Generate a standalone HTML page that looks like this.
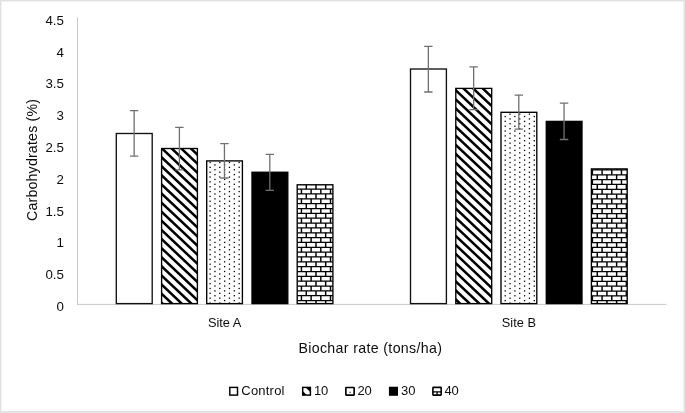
<!DOCTYPE html>
<html><head><meta charset="utf-8"><title>Carbohydrates chart</title>
<style>html,body{margin:0;padding:0;background:#fff}svg text{font-kerning:normal}</style></head>
<body>
<svg width="685" height="413" viewBox="0 0 685 413" style="display:block">
<defs>
</defs>
<rect x="0" y="0" width="685" height="413" fill="#fff"/>
<rect x="0" y="0" width="685" height="1.55" fill="#e2e2e2"/>
<rect x="0" y="0" width="1.55" height="413" fill="#e2e2e2"/>
<rect x="0" y="411" width="685" height="2" fill="#e4e4e4"/>
<rect x="683.4" y="0" width="1.6" height="413" fill="#e5e5e5"/>
<line x1="77.5" y1="17.3" x2="77.5" y2="304.6" stroke="#c9c9c9" stroke-width="1"/>
<line x1="77.0" y1="304.40000000000003" x2="666.5" y2="304.40000000000003" stroke="#c9c9c9" stroke-width="1"/>
<rect x="116.3" y="133.5" width="35.90" height="170.10" fill="#fff" stroke="#111" stroke-width="1.35"/>
<clipPath id="c2"><rect x="161.6" y="148.5" width="35.80" height="155.10"/></clipPath>
<rect x="161.6" y="148.5" width="35.80" height="155.10" fill="#fff"/>
<g clip-path="url(#c2)">
<path d="M159.60,98.96L199.40,136.50L199.40,140.00L159.60,102.46ZM159.60,108.06L199.40,145.60L199.40,149.10L159.60,111.56ZM159.60,117.16L199.40,154.70L199.40,158.20L159.60,120.66ZM159.60,126.26L199.40,163.80L199.40,167.30L159.60,129.76ZM159.60,135.36L199.40,172.90L199.40,176.40L159.60,138.86ZM159.60,144.46L199.40,182.00L199.40,185.50L159.60,147.96ZM159.60,153.56L199.40,191.10L199.40,194.60L159.60,157.06ZM159.60,162.66L199.40,200.20L199.40,203.70L159.60,166.16ZM159.60,171.76L199.40,209.30L199.40,212.80L159.60,175.26ZM159.60,180.86L199.40,218.40L199.40,221.90L159.60,184.36ZM159.60,189.96L199.40,227.50L199.40,231.00L159.60,193.46ZM159.60,199.06L199.40,236.60L199.40,240.10L159.60,202.56ZM159.60,208.16L199.40,245.70L199.40,249.20L159.60,211.66ZM159.60,217.26L199.40,254.80L199.40,258.30L159.60,220.76ZM159.60,226.36L199.40,263.90L199.40,267.40L159.60,229.86ZM159.60,235.46L199.40,273.00L199.40,276.50L159.60,238.96ZM159.60,244.56L199.40,282.10L199.40,285.60L159.60,248.06ZM159.60,253.66L199.40,291.20L199.40,294.70L159.60,257.16ZM159.60,262.76L199.40,300.30L199.40,303.80L159.60,266.26ZM159.60,271.86L199.40,309.40L199.40,312.90L159.60,275.36ZM159.60,280.96L199.40,318.50L199.40,322.00L159.60,284.46ZM159.60,290.06L199.40,327.60L199.40,331.10L159.60,293.56ZM159.60,299.16L199.40,336.70L199.40,340.20L159.60,302.66ZM159.60,308.26L199.40,345.80L199.40,349.30L159.60,311.76Z" fill="#000"/>
</g>
<rect x="161.6" y="148.5" width="35.80" height="155.10" fill="none" stroke="#000" stroke-width="1.35"/>
<clipPath id="c3"><rect x="206.7" y="160.9" width="35.70" height="142.70"/></clipPath>
<rect x="206.7" y="160.9" width="35.70" height="142.70" fill="#fff"/>
<g clip-path="url(#c3)">
<g fill="#000"><rect x="209.45" y="161.85" width="1.3" height="1.3"/><rect x="219.14" y="161.85" width="1.3" height="1.3"/><rect x="228.83" y="161.85" width="1.3" height="1.3"/><rect x="238.52" y="161.85" width="1.3" height="1.3"/><rect x="214.29" y="164.27" width="1.3" height="1.3"/><rect x="223.98" y="164.27" width="1.3" height="1.3"/><rect x="233.67" y="164.27" width="1.3" height="1.3"/><rect x="209.45" y="166.70" width="1.3" height="1.3"/><rect x="219.14" y="166.70" width="1.3" height="1.3"/><rect x="228.83" y="166.70" width="1.3" height="1.3"/><rect x="238.52" y="166.70" width="1.3" height="1.3"/><rect x="214.29" y="169.12" width="1.3" height="1.3"/><rect x="223.98" y="169.12" width="1.3" height="1.3"/><rect x="233.67" y="169.12" width="1.3" height="1.3"/><rect x="209.45" y="171.54" width="1.3" height="1.3"/><rect x="219.14" y="171.54" width="1.3" height="1.3"/><rect x="228.83" y="171.54" width="1.3" height="1.3"/><rect x="238.52" y="171.54" width="1.3" height="1.3"/><rect x="214.29" y="173.96" width="1.3" height="1.3"/><rect x="223.98" y="173.96" width="1.3" height="1.3"/><rect x="233.67" y="173.96" width="1.3" height="1.3"/><rect x="209.45" y="176.39" width="1.3" height="1.3"/><rect x="219.14" y="176.39" width="1.3" height="1.3"/><rect x="228.83" y="176.39" width="1.3" height="1.3"/><rect x="238.52" y="176.39" width="1.3" height="1.3"/><rect x="214.29" y="178.81" width="1.3" height="1.3"/><rect x="223.98" y="178.81" width="1.3" height="1.3"/><rect x="233.67" y="178.81" width="1.3" height="1.3"/><rect x="209.45" y="181.23" width="1.3" height="1.3"/><rect x="219.14" y="181.23" width="1.3" height="1.3"/><rect x="228.83" y="181.23" width="1.3" height="1.3"/><rect x="238.52" y="181.23" width="1.3" height="1.3"/><rect x="214.29" y="183.65" width="1.3" height="1.3"/><rect x="223.98" y="183.65" width="1.3" height="1.3"/><rect x="233.67" y="183.65" width="1.3" height="1.3"/><rect x="209.45" y="186.08" width="1.3" height="1.3"/><rect x="219.14" y="186.08" width="1.3" height="1.3"/><rect x="228.83" y="186.08" width="1.3" height="1.3"/><rect x="238.52" y="186.08" width="1.3" height="1.3"/><rect x="214.29" y="188.50" width="1.3" height="1.3"/><rect x="223.98" y="188.50" width="1.3" height="1.3"/><rect x="233.67" y="188.50" width="1.3" height="1.3"/><rect x="209.45" y="190.92" width="1.3" height="1.3"/><rect x="219.14" y="190.92" width="1.3" height="1.3"/><rect x="228.83" y="190.92" width="1.3" height="1.3"/><rect x="238.52" y="190.92" width="1.3" height="1.3"/><rect x="214.29" y="193.34" width="1.3" height="1.3"/><rect x="223.98" y="193.34" width="1.3" height="1.3"/><rect x="233.67" y="193.34" width="1.3" height="1.3"/><rect x="209.45" y="195.77" width="1.3" height="1.3"/><rect x="219.14" y="195.77" width="1.3" height="1.3"/><rect x="228.83" y="195.77" width="1.3" height="1.3"/><rect x="238.52" y="195.77" width="1.3" height="1.3"/><rect x="214.29" y="198.19" width="1.3" height="1.3"/><rect x="223.98" y="198.19" width="1.3" height="1.3"/><rect x="233.67" y="198.19" width="1.3" height="1.3"/><rect x="209.45" y="200.61" width="1.3" height="1.3"/><rect x="219.14" y="200.61" width="1.3" height="1.3"/><rect x="228.83" y="200.61" width="1.3" height="1.3"/><rect x="238.52" y="200.61" width="1.3" height="1.3"/><rect x="214.29" y="203.03" width="1.3" height="1.3"/><rect x="223.98" y="203.03" width="1.3" height="1.3"/><rect x="233.67" y="203.03" width="1.3" height="1.3"/><rect x="209.45" y="205.46" width="1.3" height="1.3"/><rect x="219.14" y="205.46" width="1.3" height="1.3"/><rect x="228.83" y="205.46" width="1.3" height="1.3"/><rect x="238.52" y="205.46" width="1.3" height="1.3"/><rect x="214.29" y="207.88" width="1.3" height="1.3"/><rect x="223.98" y="207.88" width="1.3" height="1.3"/><rect x="233.67" y="207.88" width="1.3" height="1.3"/><rect x="209.45" y="210.30" width="1.3" height="1.3"/><rect x="219.14" y="210.30" width="1.3" height="1.3"/><rect x="228.83" y="210.30" width="1.3" height="1.3"/><rect x="238.52" y="210.30" width="1.3" height="1.3"/><rect x="214.29" y="212.72" width="1.3" height="1.3"/><rect x="223.98" y="212.72" width="1.3" height="1.3"/><rect x="233.67" y="212.72" width="1.3" height="1.3"/><rect x="209.45" y="215.15" width="1.3" height="1.3"/><rect x="219.14" y="215.15" width="1.3" height="1.3"/><rect x="228.83" y="215.15" width="1.3" height="1.3"/><rect x="238.52" y="215.15" width="1.3" height="1.3"/><rect x="214.29" y="217.57" width="1.3" height="1.3"/><rect x="223.98" y="217.57" width="1.3" height="1.3"/><rect x="233.67" y="217.57" width="1.3" height="1.3"/><rect x="209.45" y="219.99" width="1.3" height="1.3"/><rect x="219.14" y="219.99" width="1.3" height="1.3"/><rect x="228.83" y="219.99" width="1.3" height="1.3"/><rect x="238.52" y="219.99" width="1.3" height="1.3"/><rect x="214.29" y="222.41" width="1.3" height="1.3"/><rect x="223.98" y="222.41" width="1.3" height="1.3"/><rect x="233.67" y="222.41" width="1.3" height="1.3"/><rect x="209.45" y="224.84" width="1.3" height="1.3"/><rect x="219.14" y="224.84" width="1.3" height="1.3"/><rect x="228.83" y="224.84" width="1.3" height="1.3"/><rect x="238.52" y="224.84" width="1.3" height="1.3"/><rect x="214.29" y="227.26" width="1.3" height="1.3"/><rect x="223.98" y="227.26" width="1.3" height="1.3"/><rect x="233.67" y="227.26" width="1.3" height="1.3"/><rect x="209.45" y="229.68" width="1.3" height="1.3"/><rect x="219.14" y="229.68" width="1.3" height="1.3"/><rect x="228.83" y="229.68" width="1.3" height="1.3"/><rect x="238.52" y="229.68" width="1.3" height="1.3"/><rect x="214.29" y="232.10" width="1.3" height="1.3"/><rect x="223.98" y="232.10" width="1.3" height="1.3"/><rect x="233.67" y="232.10" width="1.3" height="1.3"/><rect x="209.45" y="234.53" width="1.3" height="1.3"/><rect x="219.14" y="234.53" width="1.3" height="1.3"/><rect x="228.83" y="234.53" width="1.3" height="1.3"/><rect x="238.52" y="234.53" width="1.3" height="1.3"/><rect x="214.29" y="236.95" width="1.3" height="1.3"/><rect x="223.98" y="236.95" width="1.3" height="1.3"/><rect x="233.67" y="236.95" width="1.3" height="1.3"/><rect x="209.45" y="239.37" width="1.3" height="1.3"/><rect x="219.14" y="239.37" width="1.3" height="1.3"/><rect x="228.83" y="239.37" width="1.3" height="1.3"/><rect x="238.52" y="239.37" width="1.3" height="1.3"/><rect x="214.29" y="241.79" width="1.3" height="1.3"/><rect x="223.98" y="241.79" width="1.3" height="1.3"/><rect x="233.67" y="241.79" width="1.3" height="1.3"/><rect x="209.45" y="244.22" width="1.3" height="1.3"/><rect x="219.14" y="244.22" width="1.3" height="1.3"/><rect x="228.83" y="244.22" width="1.3" height="1.3"/><rect x="238.52" y="244.22" width="1.3" height="1.3"/><rect x="214.29" y="246.64" width="1.3" height="1.3"/><rect x="223.98" y="246.64" width="1.3" height="1.3"/><rect x="233.67" y="246.64" width="1.3" height="1.3"/><rect x="209.45" y="249.06" width="1.3" height="1.3"/><rect x="219.14" y="249.06" width="1.3" height="1.3"/><rect x="228.83" y="249.06" width="1.3" height="1.3"/><rect x="238.52" y="249.06" width="1.3" height="1.3"/><rect x="214.29" y="251.48" width="1.3" height="1.3"/><rect x="223.98" y="251.48" width="1.3" height="1.3"/><rect x="233.67" y="251.48" width="1.3" height="1.3"/><rect x="209.45" y="253.91" width="1.3" height="1.3"/><rect x="219.14" y="253.91" width="1.3" height="1.3"/><rect x="228.83" y="253.91" width="1.3" height="1.3"/><rect x="238.52" y="253.91" width="1.3" height="1.3"/><rect x="214.29" y="256.33" width="1.3" height="1.3"/><rect x="223.98" y="256.33" width="1.3" height="1.3"/><rect x="233.67" y="256.33" width="1.3" height="1.3"/><rect x="209.45" y="258.75" width="1.3" height="1.3"/><rect x="219.14" y="258.75" width="1.3" height="1.3"/><rect x="228.83" y="258.75" width="1.3" height="1.3"/><rect x="238.52" y="258.75" width="1.3" height="1.3"/><rect x="214.29" y="261.17" width="1.3" height="1.3"/><rect x="223.98" y="261.17" width="1.3" height="1.3"/><rect x="233.67" y="261.17" width="1.3" height="1.3"/><rect x="209.45" y="263.60" width="1.3" height="1.3"/><rect x="219.14" y="263.60" width="1.3" height="1.3"/><rect x="228.83" y="263.60" width="1.3" height="1.3"/><rect x="238.52" y="263.60" width="1.3" height="1.3"/><rect x="214.29" y="266.02" width="1.3" height="1.3"/><rect x="223.98" y="266.02" width="1.3" height="1.3"/><rect x="233.67" y="266.02" width="1.3" height="1.3"/><rect x="209.45" y="268.44" width="1.3" height="1.3"/><rect x="219.14" y="268.44" width="1.3" height="1.3"/><rect x="228.83" y="268.44" width="1.3" height="1.3"/><rect x="238.52" y="268.44" width="1.3" height="1.3"/><rect x="214.29" y="270.86" width="1.3" height="1.3"/><rect x="223.98" y="270.86" width="1.3" height="1.3"/><rect x="233.67" y="270.86" width="1.3" height="1.3"/><rect x="209.45" y="273.29" width="1.3" height="1.3"/><rect x="219.14" y="273.29" width="1.3" height="1.3"/><rect x="228.83" y="273.29" width="1.3" height="1.3"/><rect x="238.52" y="273.29" width="1.3" height="1.3"/><rect x="214.29" y="275.71" width="1.3" height="1.3"/><rect x="223.98" y="275.71" width="1.3" height="1.3"/><rect x="233.67" y="275.71" width="1.3" height="1.3"/><rect x="209.45" y="278.13" width="1.3" height="1.3"/><rect x="219.14" y="278.13" width="1.3" height="1.3"/><rect x="228.83" y="278.13" width="1.3" height="1.3"/><rect x="238.52" y="278.13" width="1.3" height="1.3"/><rect x="214.29" y="280.55" width="1.3" height="1.3"/><rect x="223.98" y="280.55" width="1.3" height="1.3"/><rect x="233.67" y="280.55" width="1.3" height="1.3"/><rect x="209.45" y="282.98" width="1.3" height="1.3"/><rect x="219.14" y="282.98" width="1.3" height="1.3"/><rect x="228.83" y="282.98" width="1.3" height="1.3"/><rect x="238.52" y="282.98" width="1.3" height="1.3"/><rect x="214.29" y="285.40" width="1.3" height="1.3"/><rect x="223.98" y="285.40" width="1.3" height="1.3"/><rect x="233.67" y="285.40" width="1.3" height="1.3"/><rect x="209.45" y="287.82" width="1.3" height="1.3"/><rect x="219.14" y="287.82" width="1.3" height="1.3"/><rect x="228.83" y="287.82" width="1.3" height="1.3"/><rect x="238.52" y="287.82" width="1.3" height="1.3"/><rect x="214.29" y="290.24" width="1.3" height="1.3"/><rect x="223.98" y="290.24" width="1.3" height="1.3"/><rect x="233.67" y="290.24" width="1.3" height="1.3"/><rect x="209.45" y="292.67" width="1.3" height="1.3"/><rect x="219.14" y="292.67" width="1.3" height="1.3"/><rect x="228.83" y="292.67" width="1.3" height="1.3"/><rect x="238.52" y="292.67" width="1.3" height="1.3"/><rect x="214.29" y="295.09" width="1.3" height="1.3"/><rect x="223.98" y="295.09" width="1.3" height="1.3"/><rect x="233.67" y="295.09" width="1.3" height="1.3"/><rect x="209.45" y="297.51" width="1.3" height="1.3"/><rect x="219.14" y="297.51" width="1.3" height="1.3"/><rect x="228.83" y="297.51" width="1.3" height="1.3"/><rect x="238.52" y="297.51" width="1.3" height="1.3"/><rect x="214.29" y="299.93" width="1.3" height="1.3"/><rect x="223.98" y="299.93" width="1.3" height="1.3"/><rect x="233.67" y="299.93" width="1.3" height="1.3"/><rect x="209.45" y="302.36" width="1.3" height="1.3"/><rect x="219.14" y="302.36" width="1.3" height="1.3"/><rect x="228.83" y="302.36" width="1.3" height="1.3"/><rect x="238.52" y="302.36" width="1.3" height="1.3"/></g>
</g>
<rect x="206.7" y="160.9" width="35.70" height="142.70" fill="none" stroke="#000" stroke-width="1.35"/>
<rect x="252.0" y="172.25" width="35.80" height="131.35" fill="#000" stroke="#000" stroke-width="1.35"/>
<clipPath id="c5"><rect x="297.2" y="184.8" width="35.70" height="118.80"/></clipPath>
<rect x="297.2" y="184.8" width="35.70" height="118.80" fill="#fff"/>
<g clip-path="url(#c5)">
<path d="M297.2,174.61H332.9M297.2,179.46H332.9M297.2,184.30H332.9M297.2,189.15H332.9M297.2,193.99H332.9M297.2,198.84H332.9M297.2,203.68H332.9M297.2,208.53H332.9M297.2,213.37H332.9M297.2,218.22H332.9M297.2,223.06H332.9M297.2,227.91H332.9M297.2,232.75H332.9M297.2,237.59H332.9M297.2,242.44H332.9M297.2,247.28H332.9M297.2,252.13H332.9M297.2,256.98H332.9M297.2,261.82H332.9M297.2,266.67H332.9M297.2,271.51H332.9M297.2,276.36H332.9M297.2,281.20H332.9M297.2,286.05H332.9M297.2,290.89H332.9M297.2,295.74H332.9M297.2,300.58H332.9" stroke="#000" stroke-width="1.25" fill="none"/>
<path d="M306.29,174.61v4.845M315.98,174.61v4.845M325.67,174.61v4.845M301.44,179.46v4.845M311.13,179.46v4.845M320.82,179.46v4.845M330.51,179.46v4.845M306.29,184.30v4.845M315.98,184.30v4.845M325.67,184.30v4.845M301.44,189.15v4.845M311.13,189.15v4.845M320.82,189.15v4.845M330.51,189.15v4.845M306.29,193.99v4.845M315.98,193.99v4.845M325.67,193.99v4.845M301.44,198.84v4.845M311.13,198.84v4.845M320.82,198.84v4.845M330.51,198.84v4.845M306.29,203.68v4.845M315.98,203.68v4.845M325.67,203.68v4.845M301.44,208.53v4.845M311.13,208.53v4.845M320.82,208.53v4.845M330.51,208.53v4.845M306.29,213.37v4.845M315.98,213.37v4.845M325.67,213.37v4.845M301.44,218.22v4.845M311.13,218.22v4.845M320.82,218.22v4.845M330.51,218.22v4.845M306.29,223.06v4.845M315.98,223.06v4.845M325.67,223.06v4.845M301.44,227.91v4.845M311.13,227.91v4.845M320.82,227.91v4.845M330.51,227.91v4.845M306.29,232.75v4.845M315.98,232.75v4.845M325.67,232.75v4.845M301.44,237.59v4.845M311.13,237.59v4.845M320.82,237.59v4.845M330.51,237.59v4.845M306.29,242.44v4.845M315.98,242.44v4.845M325.67,242.44v4.845M301.44,247.28v4.845M311.13,247.28v4.845M320.82,247.28v4.845M330.51,247.28v4.845M306.29,252.13v4.845M315.98,252.13v4.845M325.67,252.13v4.845M301.44,256.98v4.845M311.13,256.98v4.845M320.82,256.98v4.845M330.51,256.98v4.845M306.29,261.82v4.845M315.98,261.82v4.845M325.67,261.82v4.845M301.44,266.67v4.845M311.13,266.67v4.845M320.82,266.67v4.845M330.51,266.67v4.845M306.29,271.51v4.845M315.98,271.51v4.845M325.67,271.51v4.845M301.44,276.36v4.845M311.13,276.36v4.845M320.82,276.36v4.845M330.51,276.36v4.845M306.29,281.20v4.845M315.98,281.20v4.845M325.67,281.20v4.845M301.44,286.05v4.845M311.13,286.05v4.845M320.82,286.05v4.845M330.51,286.05v4.845M306.29,290.89v4.845M315.98,290.89v4.845M325.67,290.89v4.845M301.44,295.74v4.845M311.13,295.74v4.845M320.82,295.74v4.845M330.51,295.74v4.845M306.29,300.58v4.845M315.98,300.58v4.845M325.67,300.58v4.845" stroke="#000" stroke-width="1.45" fill="none"/>
</g>
<rect x="297.2" y="184.8" width="35.70" height="118.80" fill="none" stroke="#000" stroke-width="1.35"/>
<rect x="410.5" y="69.0" width="35.90" height="234.60" fill="#fff" stroke="#111" stroke-width="1.35"/>
<clipPath id="c7"><rect x="455.8" y="88.4" width="35.90" height="215.20"/></clipPath>
<rect x="455.8" y="88.4" width="35.90" height="215.20" fill="#fff"/>
<g clip-path="url(#c7)">
<path d="M453.80,41.16L493.70,78.79L493.70,82.29L453.80,44.66ZM453.80,50.26L493.70,87.89L493.70,91.39L453.80,53.76ZM453.80,59.36L493.70,96.99L493.70,100.49L453.80,62.86ZM453.80,68.46L493.70,106.09L493.70,109.59L453.80,71.96ZM453.80,77.56L493.70,115.19L493.70,118.69L453.80,81.06ZM453.80,86.66L493.70,124.29L493.70,127.79L453.80,90.16ZM453.80,95.76L493.70,133.39L493.70,136.89L453.80,99.26ZM453.80,104.86L493.70,142.49L493.70,145.99L453.80,108.36ZM453.80,113.96L493.70,151.59L493.70,155.09L453.80,117.46ZM453.80,123.06L493.70,160.69L493.70,164.19L453.80,126.56ZM453.80,132.16L493.70,169.79L493.70,173.29L453.80,135.66ZM453.80,141.26L493.70,178.89L493.70,182.39L453.80,144.76ZM453.80,150.36L493.70,187.99L493.70,191.49L453.80,153.86ZM453.80,159.46L493.70,197.09L493.70,200.59L453.80,162.96ZM453.80,168.56L493.70,206.19L493.70,209.69L453.80,172.06ZM453.80,177.66L493.70,215.29L493.70,218.79L453.80,181.16ZM453.80,186.76L493.70,224.39L493.70,227.89L453.80,190.26ZM453.80,195.86L493.70,233.49L493.70,236.99L453.80,199.36ZM453.80,204.96L493.70,242.59L493.70,246.09L453.80,208.46ZM453.80,214.06L493.70,251.69L493.70,255.19L453.80,217.56ZM453.80,223.16L493.70,260.79L493.70,264.29L453.80,226.66ZM453.80,232.26L493.70,269.89L493.70,273.39L453.80,235.76ZM453.80,241.36L493.70,278.99L493.70,282.49L453.80,244.86ZM453.80,250.46L493.70,288.09L493.70,291.59L453.80,253.96ZM453.80,259.56L493.70,297.19L493.70,300.69L453.80,263.06ZM453.80,268.66L493.70,306.29L493.70,309.79L453.80,272.16ZM453.80,277.76L493.70,315.39L493.70,318.89L453.80,281.26ZM453.80,286.86L493.70,324.49L493.70,327.99L453.80,290.36ZM453.80,295.96L493.70,333.59L493.70,337.09L453.80,299.46ZM453.80,305.06L493.70,342.69L493.70,346.19L453.80,308.56Z" fill="#000"/>
</g>
<rect x="455.8" y="88.4" width="35.90" height="215.20" fill="none" stroke="#000" stroke-width="1.35"/>
<clipPath id="c8"><rect x="501.0" y="112.3" width="35.80" height="191.30"/></clipPath>
<rect x="501.0" y="112.3" width="35.80" height="191.30" fill="#fff"/>
<g clip-path="url(#c8)">
<g fill="#000"><rect x="509.40" y="113.45" width="1.3" height="1.3"/><rect x="519.09" y="113.45" width="1.3" height="1.3"/><rect x="528.78" y="113.45" width="1.3" height="1.3"/><rect x="504.55" y="115.87" width="1.3" height="1.3"/><rect x="514.24" y="115.87" width="1.3" height="1.3"/><rect x="523.93" y="115.87" width="1.3" height="1.3"/><rect x="533.62" y="115.87" width="1.3" height="1.3"/><rect x="509.40" y="118.29" width="1.3" height="1.3"/><rect x="519.09" y="118.29" width="1.3" height="1.3"/><rect x="528.78" y="118.29" width="1.3" height="1.3"/><rect x="504.55" y="120.72" width="1.3" height="1.3"/><rect x="514.24" y="120.72" width="1.3" height="1.3"/><rect x="523.93" y="120.72" width="1.3" height="1.3"/><rect x="533.62" y="120.72" width="1.3" height="1.3"/><rect x="509.40" y="123.14" width="1.3" height="1.3"/><rect x="519.09" y="123.14" width="1.3" height="1.3"/><rect x="528.78" y="123.14" width="1.3" height="1.3"/><rect x="504.55" y="125.56" width="1.3" height="1.3"/><rect x="514.24" y="125.56" width="1.3" height="1.3"/><rect x="523.93" y="125.56" width="1.3" height="1.3"/><rect x="533.62" y="125.56" width="1.3" height="1.3"/><rect x="509.40" y="127.98" width="1.3" height="1.3"/><rect x="519.09" y="127.98" width="1.3" height="1.3"/><rect x="528.78" y="127.98" width="1.3" height="1.3"/><rect x="504.55" y="130.41" width="1.3" height="1.3"/><rect x="514.24" y="130.41" width="1.3" height="1.3"/><rect x="523.93" y="130.41" width="1.3" height="1.3"/><rect x="533.62" y="130.41" width="1.3" height="1.3"/><rect x="509.40" y="132.83" width="1.3" height="1.3"/><rect x="519.09" y="132.83" width="1.3" height="1.3"/><rect x="528.78" y="132.83" width="1.3" height="1.3"/><rect x="504.55" y="135.25" width="1.3" height="1.3"/><rect x="514.24" y="135.25" width="1.3" height="1.3"/><rect x="523.93" y="135.25" width="1.3" height="1.3"/><rect x="533.62" y="135.25" width="1.3" height="1.3"/><rect x="509.40" y="137.68" width="1.3" height="1.3"/><rect x="519.09" y="137.68" width="1.3" height="1.3"/><rect x="528.78" y="137.68" width="1.3" height="1.3"/><rect x="504.55" y="140.10" width="1.3" height="1.3"/><rect x="514.24" y="140.10" width="1.3" height="1.3"/><rect x="523.93" y="140.10" width="1.3" height="1.3"/><rect x="533.62" y="140.10" width="1.3" height="1.3"/><rect x="509.40" y="142.52" width="1.3" height="1.3"/><rect x="519.09" y="142.52" width="1.3" height="1.3"/><rect x="528.78" y="142.52" width="1.3" height="1.3"/><rect x="504.55" y="144.94" width="1.3" height="1.3"/><rect x="514.24" y="144.94" width="1.3" height="1.3"/><rect x="523.93" y="144.94" width="1.3" height="1.3"/><rect x="533.62" y="144.94" width="1.3" height="1.3"/><rect x="509.40" y="147.37" width="1.3" height="1.3"/><rect x="519.09" y="147.37" width="1.3" height="1.3"/><rect x="528.78" y="147.37" width="1.3" height="1.3"/><rect x="504.55" y="149.79" width="1.3" height="1.3"/><rect x="514.24" y="149.79" width="1.3" height="1.3"/><rect x="523.93" y="149.79" width="1.3" height="1.3"/><rect x="533.62" y="149.79" width="1.3" height="1.3"/><rect x="509.40" y="152.21" width="1.3" height="1.3"/><rect x="519.09" y="152.21" width="1.3" height="1.3"/><rect x="528.78" y="152.21" width="1.3" height="1.3"/><rect x="504.55" y="154.63" width="1.3" height="1.3"/><rect x="514.24" y="154.63" width="1.3" height="1.3"/><rect x="523.93" y="154.63" width="1.3" height="1.3"/><rect x="533.62" y="154.63" width="1.3" height="1.3"/><rect x="509.40" y="157.06" width="1.3" height="1.3"/><rect x="519.09" y="157.06" width="1.3" height="1.3"/><rect x="528.78" y="157.06" width="1.3" height="1.3"/><rect x="504.55" y="159.48" width="1.3" height="1.3"/><rect x="514.24" y="159.48" width="1.3" height="1.3"/><rect x="523.93" y="159.48" width="1.3" height="1.3"/><rect x="533.62" y="159.48" width="1.3" height="1.3"/><rect x="509.40" y="161.90" width="1.3" height="1.3"/><rect x="519.09" y="161.90" width="1.3" height="1.3"/><rect x="528.78" y="161.90" width="1.3" height="1.3"/><rect x="504.55" y="164.32" width="1.3" height="1.3"/><rect x="514.24" y="164.32" width="1.3" height="1.3"/><rect x="523.93" y="164.32" width="1.3" height="1.3"/><rect x="533.62" y="164.32" width="1.3" height="1.3"/><rect x="509.40" y="166.75" width="1.3" height="1.3"/><rect x="519.09" y="166.75" width="1.3" height="1.3"/><rect x="528.78" y="166.75" width="1.3" height="1.3"/><rect x="504.55" y="169.17" width="1.3" height="1.3"/><rect x="514.24" y="169.17" width="1.3" height="1.3"/><rect x="523.93" y="169.17" width="1.3" height="1.3"/><rect x="533.62" y="169.17" width="1.3" height="1.3"/><rect x="509.40" y="171.59" width="1.3" height="1.3"/><rect x="519.09" y="171.59" width="1.3" height="1.3"/><rect x="528.78" y="171.59" width="1.3" height="1.3"/><rect x="504.55" y="174.01" width="1.3" height="1.3"/><rect x="514.24" y="174.01" width="1.3" height="1.3"/><rect x="523.93" y="174.01" width="1.3" height="1.3"/><rect x="533.62" y="174.01" width="1.3" height="1.3"/><rect x="509.40" y="176.44" width="1.3" height="1.3"/><rect x="519.09" y="176.44" width="1.3" height="1.3"/><rect x="528.78" y="176.44" width="1.3" height="1.3"/><rect x="504.55" y="178.86" width="1.3" height="1.3"/><rect x="514.24" y="178.86" width="1.3" height="1.3"/><rect x="523.93" y="178.86" width="1.3" height="1.3"/><rect x="533.62" y="178.86" width="1.3" height="1.3"/><rect x="509.40" y="181.28" width="1.3" height="1.3"/><rect x="519.09" y="181.28" width="1.3" height="1.3"/><rect x="528.78" y="181.28" width="1.3" height="1.3"/><rect x="504.55" y="183.70" width="1.3" height="1.3"/><rect x="514.24" y="183.70" width="1.3" height="1.3"/><rect x="523.93" y="183.70" width="1.3" height="1.3"/><rect x="533.62" y="183.70" width="1.3" height="1.3"/><rect x="509.40" y="186.13" width="1.3" height="1.3"/><rect x="519.09" y="186.13" width="1.3" height="1.3"/><rect x="528.78" y="186.13" width="1.3" height="1.3"/><rect x="504.55" y="188.55" width="1.3" height="1.3"/><rect x="514.24" y="188.55" width="1.3" height="1.3"/><rect x="523.93" y="188.55" width="1.3" height="1.3"/><rect x="533.62" y="188.55" width="1.3" height="1.3"/><rect x="509.40" y="190.97" width="1.3" height="1.3"/><rect x="519.09" y="190.97" width="1.3" height="1.3"/><rect x="528.78" y="190.97" width="1.3" height="1.3"/><rect x="504.55" y="193.39" width="1.3" height="1.3"/><rect x="514.24" y="193.39" width="1.3" height="1.3"/><rect x="523.93" y="193.39" width="1.3" height="1.3"/><rect x="533.62" y="193.39" width="1.3" height="1.3"/><rect x="509.40" y="195.82" width="1.3" height="1.3"/><rect x="519.09" y="195.82" width="1.3" height="1.3"/><rect x="528.78" y="195.82" width="1.3" height="1.3"/><rect x="504.55" y="198.24" width="1.3" height="1.3"/><rect x="514.24" y="198.24" width="1.3" height="1.3"/><rect x="523.93" y="198.24" width="1.3" height="1.3"/><rect x="533.62" y="198.24" width="1.3" height="1.3"/><rect x="509.40" y="200.66" width="1.3" height="1.3"/><rect x="519.09" y="200.66" width="1.3" height="1.3"/><rect x="528.78" y="200.66" width="1.3" height="1.3"/><rect x="504.55" y="203.08" width="1.3" height="1.3"/><rect x="514.24" y="203.08" width="1.3" height="1.3"/><rect x="523.93" y="203.08" width="1.3" height="1.3"/><rect x="533.62" y="203.08" width="1.3" height="1.3"/><rect x="509.40" y="205.51" width="1.3" height="1.3"/><rect x="519.09" y="205.51" width="1.3" height="1.3"/><rect x="528.78" y="205.51" width="1.3" height="1.3"/><rect x="504.55" y="207.93" width="1.3" height="1.3"/><rect x="514.24" y="207.93" width="1.3" height="1.3"/><rect x="523.93" y="207.93" width="1.3" height="1.3"/><rect x="533.62" y="207.93" width="1.3" height="1.3"/><rect x="509.40" y="210.35" width="1.3" height="1.3"/><rect x="519.09" y="210.35" width="1.3" height="1.3"/><rect x="528.78" y="210.35" width="1.3" height="1.3"/><rect x="504.55" y="212.77" width="1.3" height="1.3"/><rect x="514.24" y="212.77" width="1.3" height="1.3"/><rect x="523.93" y="212.77" width="1.3" height="1.3"/><rect x="533.62" y="212.77" width="1.3" height="1.3"/><rect x="509.40" y="215.20" width="1.3" height="1.3"/><rect x="519.09" y="215.20" width="1.3" height="1.3"/><rect x="528.78" y="215.20" width="1.3" height="1.3"/><rect x="504.55" y="217.62" width="1.3" height="1.3"/><rect x="514.24" y="217.62" width="1.3" height="1.3"/><rect x="523.93" y="217.62" width="1.3" height="1.3"/><rect x="533.62" y="217.62" width="1.3" height="1.3"/><rect x="509.40" y="220.04" width="1.3" height="1.3"/><rect x="519.09" y="220.04" width="1.3" height="1.3"/><rect x="528.78" y="220.04" width="1.3" height="1.3"/><rect x="504.55" y="222.46" width="1.3" height="1.3"/><rect x="514.24" y="222.46" width="1.3" height="1.3"/><rect x="523.93" y="222.46" width="1.3" height="1.3"/><rect x="533.62" y="222.46" width="1.3" height="1.3"/><rect x="509.40" y="224.89" width="1.3" height="1.3"/><rect x="519.09" y="224.89" width="1.3" height="1.3"/><rect x="528.78" y="224.89" width="1.3" height="1.3"/><rect x="504.55" y="227.31" width="1.3" height="1.3"/><rect x="514.24" y="227.31" width="1.3" height="1.3"/><rect x="523.93" y="227.31" width="1.3" height="1.3"/><rect x="533.62" y="227.31" width="1.3" height="1.3"/><rect x="509.40" y="229.73" width="1.3" height="1.3"/><rect x="519.09" y="229.73" width="1.3" height="1.3"/><rect x="528.78" y="229.73" width="1.3" height="1.3"/><rect x="504.55" y="232.15" width="1.3" height="1.3"/><rect x="514.24" y="232.15" width="1.3" height="1.3"/><rect x="523.93" y="232.15" width="1.3" height="1.3"/><rect x="533.62" y="232.15" width="1.3" height="1.3"/><rect x="509.40" y="234.58" width="1.3" height="1.3"/><rect x="519.09" y="234.58" width="1.3" height="1.3"/><rect x="528.78" y="234.58" width="1.3" height="1.3"/><rect x="504.55" y="237.00" width="1.3" height="1.3"/><rect x="514.24" y="237.00" width="1.3" height="1.3"/><rect x="523.93" y="237.00" width="1.3" height="1.3"/><rect x="533.62" y="237.00" width="1.3" height="1.3"/><rect x="509.40" y="239.42" width="1.3" height="1.3"/><rect x="519.09" y="239.42" width="1.3" height="1.3"/><rect x="528.78" y="239.42" width="1.3" height="1.3"/><rect x="504.55" y="241.84" width="1.3" height="1.3"/><rect x="514.24" y="241.84" width="1.3" height="1.3"/><rect x="523.93" y="241.84" width="1.3" height="1.3"/><rect x="533.62" y="241.84" width="1.3" height="1.3"/><rect x="509.40" y="244.27" width="1.3" height="1.3"/><rect x="519.09" y="244.27" width="1.3" height="1.3"/><rect x="528.78" y="244.27" width="1.3" height="1.3"/><rect x="504.55" y="246.69" width="1.3" height="1.3"/><rect x="514.24" y="246.69" width="1.3" height="1.3"/><rect x="523.93" y="246.69" width="1.3" height="1.3"/><rect x="533.62" y="246.69" width="1.3" height="1.3"/><rect x="509.40" y="249.11" width="1.3" height="1.3"/><rect x="519.09" y="249.11" width="1.3" height="1.3"/><rect x="528.78" y="249.11" width="1.3" height="1.3"/><rect x="504.55" y="251.53" width="1.3" height="1.3"/><rect x="514.24" y="251.53" width="1.3" height="1.3"/><rect x="523.93" y="251.53" width="1.3" height="1.3"/><rect x="533.62" y="251.53" width="1.3" height="1.3"/><rect x="509.40" y="253.96" width="1.3" height="1.3"/><rect x="519.09" y="253.96" width="1.3" height="1.3"/><rect x="528.78" y="253.96" width="1.3" height="1.3"/><rect x="504.55" y="256.38" width="1.3" height="1.3"/><rect x="514.24" y="256.38" width="1.3" height="1.3"/><rect x="523.93" y="256.38" width="1.3" height="1.3"/><rect x="533.62" y="256.38" width="1.3" height="1.3"/><rect x="509.40" y="258.80" width="1.3" height="1.3"/><rect x="519.09" y="258.80" width="1.3" height="1.3"/><rect x="528.78" y="258.80" width="1.3" height="1.3"/><rect x="504.55" y="261.22" width="1.3" height="1.3"/><rect x="514.24" y="261.22" width="1.3" height="1.3"/><rect x="523.93" y="261.22" width="1.3" height="1.3"/><rect x="533.62" y="261.22" width="1.3" height="1.3"/><rect x="509.40" y="263.65" width="1.3" height="1.3"/><rect x="519.09" y="263.65" width="1.3" height="1.3"/><rect x="528.78" y="263.65" width="1.3" height="1.3"/><rect x="504.55" y="266.07" width="1.3" height="1.3"/><rect x="514.24" y="266.07" width="1.3" height="1.3"/><rect x="523.93" y="266.07" width="1.3" height="1.3"/><rect x="533.62" y="266.07" width="1.3" height="1.3"/><rect x="509.40" y="268.49" width="1.3" height="1.3"/><rect x="519.09" y="268.49" width="1.3" height="1.3"/><rect x="528.78" y="268.49" width="1.3" height="1.3"/><rect x="504.55" y="270.91" width="1.3" height="1.3"/><rect x="514.24" y="270.91" width="1.3" height="1.3"/><rect x="523.93" y="270.91" width="1.3" height="1.3"/><rect x="533.62" y="270.91" width="1.3" height="1.3"/><rect x="509.40" y="273.34" width="1.3" height="1.3"/><rect x="519.09" y="273.34" width="1.3" height="1.3"/><rect x="528.78" y="273.34" width="1.3" height="1.3"/><rect x="504.55" y="275.76" width="1.3" height="1.3"/><rect x="514.24" y="275.76" width="1.3" height="1.3"/><rect x="523.93" y="275.76" width="1.3" height="1.3"/><rect x="533.62" y="275.76" width="1.3" height="1.3"/><rect x="509.40" y="278.18" width="1.3" height="1.3"/><rect x="519.09" y="278.18" width="1.3" height="1.3"/><rect x="528.78" y="278.18" width="1.3" height="1.3"/><rect x="504.55" y="280.60" width="1.3" height="1.3"/><rect x="514.24" y="280.60" width="1.3" height="1.3"/><rect x="523.93" y="280.60" width="1.3" height="1.3"/><rect x="533.62" y="280.60" width="1.3" height="1.3"/><rect x="509.40" y="283.03" width="1.3" height="1.3"/><rect x="519.09" y="283.03" width="1.3" height="1.3"/><rect x="528.78" y="283.03" width="1.3" height="1.3"/><rect x="504.55" y="285.45" width="1.3" height="1.3"/><rect x="514.24" y="285.45" width="1.3" height="1.3"/><rect x="523.93" y="285.45" width="1.3" height="1.3"/><rect x="533.62" y="285.45" width="1.3" height="1.3"/><rect x="509.40" y="287.87" width="1.3" height="1.3"/><rect x="519.09" y="287.87" width="1.3" height="1.3"/><rect x="528.78" y="287.87" width="1.3" height="1.3"/><rect x="504.55" y="290.29" width="1.3" height="1.3"/><rect x="514.24" y="290.29" width="1.3" height="1.3"/><rect x="523.93" y="290.29" width="1.3" height="1.3"/><rect x="533.62" y="290.29" width="1.3" height="1.3"/><rect x="509.40" y="292.72" width="1.3" height="1.3"/><rect x="519.09" y="292.72" width="1.3" height="1.3"/><rect x="528.78" y="292.72" width="1.3" height="1.3"/><rect x="504.55" y="295.14" width="1.3" height="1.3"/><rect x="514.24" y="295.14" width="1.3" height="1.3"/><rect x="523.93" y="295.14" width="1.3" height="1.3"/><rect x="533.62" y="295.14" width="1.3" height="1.3"/><rect x="509.40" y="297.56" width="1.3" height="1.3"/><rect x="519.09" y="297.56" width="1.3" height="1.3"/><rect x="528.78" y="297.56" width="1.3" height="1.3"/><rect x="504.55" y="299.98" width="1.3" height="1.3"/><rect x="514.24" y="299.98" width="1.3" height="1.3"/><rect x="523.93" y="299.98" width="1.3" height="1.3"/><rect x="533.62" y="299.98" width="1.3" height="1.3"/><rect x="509.40" y="302.41" width="1.3" height="1.3"/><rect x="519.09" y="302.41" width="1.3" height="1.3"/><rect x="528.78" y="302.41" width="1.3" height="1.3"/></g>
</g>
<rect x="501.0" y="112.3" width="35.80" height="191.30" fill="none" stroke="#000" stroke-width="1.35"/>
<rect x="546.3" y="121.4" width="35.70" height="182.20" fill="#000" stroke="#000" stroke-width="1.35"/>
<clipPath id="c10"><rect x="591.4" y="168.9" width="35.80" height="134.70"/></clipPath>
<rect x="591.4" y="168.9" width="35.80" height="134.70" fill="#fff"/>
<g clip-path="url(#c10)">
<path d="M591.4,160.21H627.2M591.4,165.06H627.2M591.4,169.90H627.2M591.4,174.75H627.2M591.4,179.59H627.2M591.4,184.44H627.2M591.4,189.28H627.2M591.4,194.12H627.2M591.4,198.97H627.2M591.4,203.81H627.2M591.4,208.66H627.2M591.4,213.50H627.2M591.4,218.35H627.2M591.4,223.19H627.2M591.4,228.04H627.2M591.4,232.88H627.2M591.4,237.73H627.2M591.4,242.57H627.2M591.4,247.42H627.2M591.4,252.26H627.2M591.4,257.11H627.2M591.4,261.96H627.2M591.4,266.80H627.2M591.4,271.65H627.2M591.4,276.49H627.2M591.4,281.34H627.2M591.4,286.18H627.2M591.4,291.03H627.2M591.4,295.87H627.2M591.4,300.72H627.2" stroke="#000" stroke-width="1.25" fill="none"/>
<path d="M592.40,160.21v4.845M602.09,160.21v4.845M611.78,160.21v4.845M621.47,160.21v4.845M597.25,165.06v4.845M606.94,165.06v4.845M616.63,165.06v4.845M626.32,165.06v4.845M592.40,169.90v4.845M602.09,169.90v4.845M611.78,169.90v4.845M621.47,169.90v4.845M597.25,174.75v4.845M606.94,174.75v4.845M616.63,174.75v4.845M626.32,174.75v4.845M592.40,179.59v4.845M602.09,179.59v4.845M611.78,179.59v4.845M621.47,179.59v4.845M597.25,184.44v4.845M606.94,184.44v4.845M616.63,184.44v4.845M626.32,184.44v4.845M592.40,189.28v4.845M602.09,189.28v4.845M611.78,189.28v4.845M621.47,189.28v4.845M597.25,194.12v4.845M606.94,194.12v4.845M616.63,194.12v4.845M626.32,194.12v4.845M592.40,198.97v4.845M602.09,198.97v4.845M611.78,198.97v4.845M621.47,198.97v4.845M597.25,203.81v4.845M606.94,203.81v4.845M616.63,203.81v4.845M626.32,203.81v4.845M592.40,208.66v4.845M602.09,208.66v4.845M611.78,208.66v4.845M621.47,208.66v4.845M597.25,213.50v4.845M606.94,213.50v4.845M616.63,213.50v4.845M626.32,213.50v4.845M592.40,218.35v4.845M602.09,218.35v4.845M611.78,218.35v4.845M621.47,218.35v4.845M597.25,223.19v4.845M606.94,223.19v4.845M616.63,223.19v4.845M626.32,223.19v4.845M592.40,228.04v4.845M602.09,228.04v4.845M611.78,228.04v4.845M621.47,228.04v4.845M597.25,232.88v4.845M606.94,232.88v4.845M616.63,232.88v4.845M626.32,232.88v4.845M592.40,237.73v4.845M602.09,237.73v4.845M611.78,237.73v4.845M621.47,237.73v4.845M597.25,242.57v4.845M606.94,242.57v4.845M616.63,242.57v4.845M626.32,242.57v4.845M592.40,247.42v4.845M602.09,247.42v4.845M611.78,247.42v4.845M621.47,247.42v4.845M597.25,252.26v4.845M606.94,252.26v4.845M616.63,252.26v4.845M626.32,252.26v4.845M592.40,257.11v4.845M602.09,257.11v4.845M611.78,257.11v4.845M621.47,257.11v4.845M597.25,261.96v4.845M606.94,261.96v4.845M616.63,261.96v4.845M626.32,261.96v4.845M592.40,266.80v4.845M602.09,266.80v4.845M611.78,266.80v4.845M621.47,266.80v4.845M597.25,271.65v4.845M606.94,271.65v4.845M616.63,271.65v4.845M626.32,271.65v4.845M592.40,276.49v4.845M602.09,276.49v4.845M611.78,276.49v4.845M621.47,276.49v4.845M597.25,281.34v4.845M606.94,281.34v4.845M616.63,281.34v4.845M626.32,281.34v4.845M592.40,286.18v4.845M602.09,286.18v4.845M611.78,286.18v4.845M621.47,286.18v4.845M597.25,291.03v4.845M606.94,291.03v4.845M616.63,291.03v4.845M626.32,291.03v4.845M592.40,295.87v4.845M602.09,295.87v4.845M611.78,295.87v4.845M621.47,295.87v4.845M597.25,300.72v4.845M606.94,300.72v4.845M616.63,300.72v4.845M626.32,300.72v4.845" stroke="#000" stroke-width="1.45" fill="none"/>
</g>
<rect x="591.4" y="168.9" width="35.80" height="134.70" fill="none" stroke="#000" stroke-width="1.35"/>
<path d="M134.15,110.7V156.1M129.95,110.7h8.4M129.95,156.1h8.4" stroke="#707070" stroke-width="1.3" fill="none"/>
<path d="M179.40,127.3V169.9M175.20,127.3h8.4M175.20,169.9h8.4" stroke="#707070" stroke-width="1.3" fill="none"/>
<path d="M224.45,143.7V178.0M220.25,143.7h8.4M220.25,178.0h8.4" stroke="#707070" stroke-width="1.3" fill="none"/>
<path d="M269.80,154.3V190.4M265.60,154.3h8.4M265.60,190.4h8.4" stroke="#707070" stroke-width="1.3" fill="none"/>
<path d="M428.35,46.4V92.0M424.15,46.4h8.4M424.15,92.0h8.4" stroke="#707070" stroke-width="1.3" fill="none"/>
<path d="M473.65,66.8V109.6M469.45,66.8h8.4M469.45,109.6h8.4" stroke="#707070" stroke-width="1.3" fill="none"/>
<path d="M518.80,95.2V129.2M514.60,95.2h8.4M514.60,129.2h8.4" stroke="#707070" stroke-width="1.3" fill="none"/>
<path d="M564.05,103.2V139.5M559.85,103.2h8.4M559.85,139.5h8.4" stroke="#707070" stroke-width="1.3" fill="none"/>
<g font-family="Liberation Sans, Arial, sans-serif" font-size="13.3" fill="#0d0d0d" text-anchor="end">
<text x="63.9" y="310.9">0</text>
<text x="63.9" y="279.1">0.5</text>
<text x="63.9" y="247.3">1</text>
<text x="63.9" y="215.5">1.5</text>
<text x="63.9" y="183.7">2</text>
<text x="63.9" y="151.9">2.5</text>
<text x="63.9" y="120.1">3</text>
<text x="63.9" y="88.3">3.5</text>
<text x="63.9" y="56.5">4</text>
<text x="63.9" y="24.7">4.5</text>
</g>
<g font-family="Liberation Sans, Arial, sans-serif" font-size="12.8" fill="#0d0d0d" text-anchor="middle">
<text x="224.6" y="327.2">Site A</text>
<text x="518.9" y="327.2">Site B</text>
</g>
<text font-family="Liberation Sans, Arial, sans-serif" font-size="14.2" fill="#0d0d0d" x="298.4" y="353" textLength="143.6" lengthAdjust="spacing">Biochar rate (tons/ha)</text>
<text font-family="Liberation Sans, Arial, sans-serif" font-size="14.2" fill="#0d0d0d" transform="translate(36.7,221) rotate(-90)" textLength="122" lengthAdjust="spacing">Carbohydrates (%)</text>
<g font-family="Liberation Sans, Arial, sans-serif" font-size="13" fill="#0d0d0d">
<text x="241.3" y="395.3" textLength="43.2" lengthAdjust="spacing">Control</text>
<text x="313.9" y="395.3">10</text>
<text x="357.4" y="395.3">20</text>
<text x="401.1" y="395.3">30</text>
<text x="444.4" y="395.3">40</text>
</g>
<rect x="229.8" y="387.4" width="7.7" height="7.7" fill="#fff" stroke="#000" stroke-width="1.45"/>
<rect x="302.7" y="387.4" width="7.7" height="7.7" fill="#fff"/>
<path d="M305.65,387.4H310.4V392.15Z M302.7,390.9V395.09999999999997H306.7Z" fill="#000"/>
<rect x="302.7" y="387.4" width="7.7" height="7.7" fill="none" stroke="#000" stroke-width="1.45"/>
<rect x="345.85" y="387.45" width="8.3" height="7.6" rx="0.5" fill="#fff" stroke="#000" stroke-width="1.65"/>
<rect x="349.5" y="391.75" width="1.2" height="1.1" fill="#111"/>
<rect x="389.6" y="387.4" width="7.7" height="7.7" fill="#000" stroke="#000" stroke-width="1.35"/>
<rect x="432.9" y="387.4" width="8.3" height="7.7" rx="0.5" fill="#fff" stroke="#000" stroke-width="1.6"/>
<path d="M432.9,391.79999999999995h8.3M437.09999999999997,391.79999999999995v3.3" stroke="#000" stroke-width="1.3" fill="none"/>
</svg>
</body></html>
